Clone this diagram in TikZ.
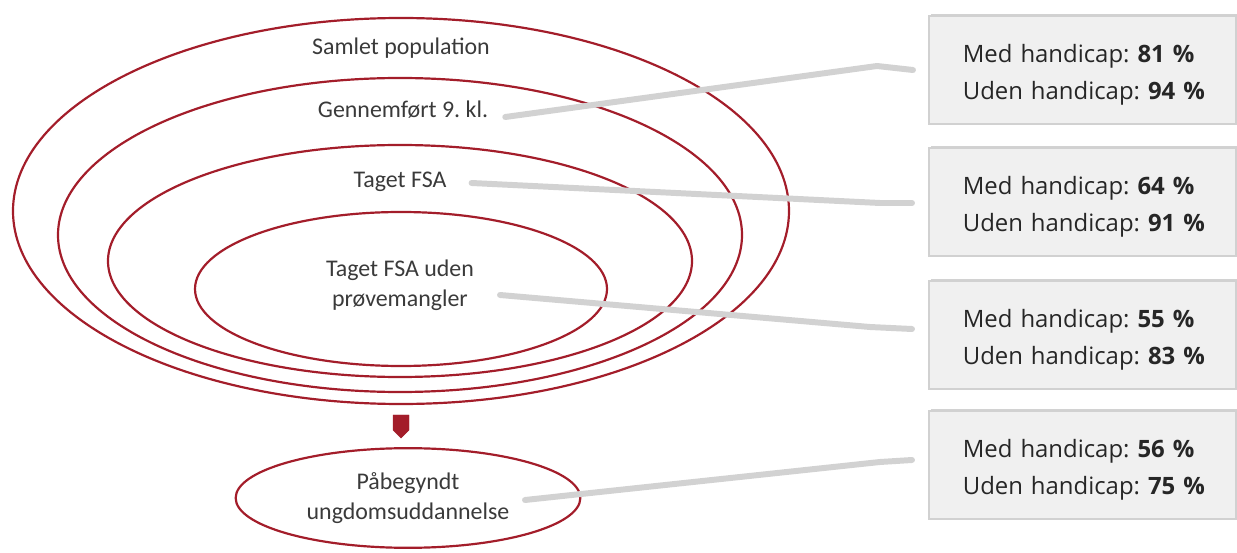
\documentclass[tikz,border=0pt]{standalone}
\usepackage{fontspec}
\setmainfont{Carlito}
\newfontfamily\boxfont{Open Sans}
\usepackage{tikz}
\usetikzlibrary{shapes,shadows}
\frenchspacing
\definecolor{ringred}{HTML}{A31D2A}
\definecolor{labelgray}{HTML}{3A3A3A}
\definecolor{leadgray}{HTML}{D2D2D2}
\tikzset{
  ring/.style={draw=ringred, line width=2.2},
  lbl/.style={text=labelgray, font=\fontsize{24}{30}\selectfont, align=center, inner sep=0pt},
  infobox/.style={draw=black!18, line width=2, fill=black!6, anchor=west,
    text width=240, inner xsep=34, minimum height=108, align=left,
    font=\boxfont\fontsize{24}{37}\selectfont, text=black!85,
    drop shadow={shadow xshift=1.5, shadow yshift=-2.5, fill=black!35}},
  lead/.style={draw=leadgray, line width=6, line cap=round, line join=round}
}
\newcommand{\handicaprates}[2]{\rule{0pt}{27pt}\mbox{Med handicap: \textbf{#1 \%}}\\\mbox{Uden handicap: \textbf{#2 \%}}}

\begin{document}
\begin{tikzpicture}[x=1bp,y=-1bp]
\useasboundingbox (0,0) rectangle (1237,553);

% nested rings
\draw[ring] (401,211) ellipse [x radius=388, y radius=193];
\draw[ring] (400,235) ellipse [x radius=342, y radius=157];
\draw[ring] (400,261) ellipse [x radius=292, y radius=116];
\draw[ring] (401,289) ellipse [x radius=206, y radius=77];

\node[lbl] (pop) at (401,48) {Samlet population};
\node[lbl] (gen) at (403,110) {Gennemført 9. kl.};
\node[lbl] (fsa) at (400,182) {Taget FSA};
\node[lbl] (uden) at (400,285) {Taget FSA uden\\prøvemangler};

% arrow down
\filldraw[ringred] (393,415)--(409,415)--(409,430)--(401,438)--(393,430)--cycle;

\node[ring, ellipse, minimum width=346, minimum height=100, lbl] (paa) at (408,498) {Påbegyndt\\ungdomsuddannelse};

% boxes
\node[infobox] (b1) at (928,70) {\handicaprates{81}{94}};
\node[infobox] (b2) at (928,202) {\handicaprates{64}{91}};
\node[infobox] (b3) at (928,335) {\handicaprates{55}{83}};
\node[infobox] (b4) at (928,465) {\handicaprates{56}{75}};

% leader lines
\draw[lead] ([shift={(17,7)}]gen.east) -- (877,66) -- ([shift={(-15,0)}]b1.west);
\draw[lead] ([shift={(25,1)}]fsa.east) -- (880,203) -- ([shift={(-16,1)}]b2.west);
\draw[lead] ([shift={(100,10)}]uden.center) -- (870,327) -- ([shift={(-16,-6)}]b3.west);
\draw[lead] ([shift={(117,2)}]paa.center) -- (880,462) -- ([shift={(-16,-5)}]b4.west);
\end{tikzpicture}
\end{document}
